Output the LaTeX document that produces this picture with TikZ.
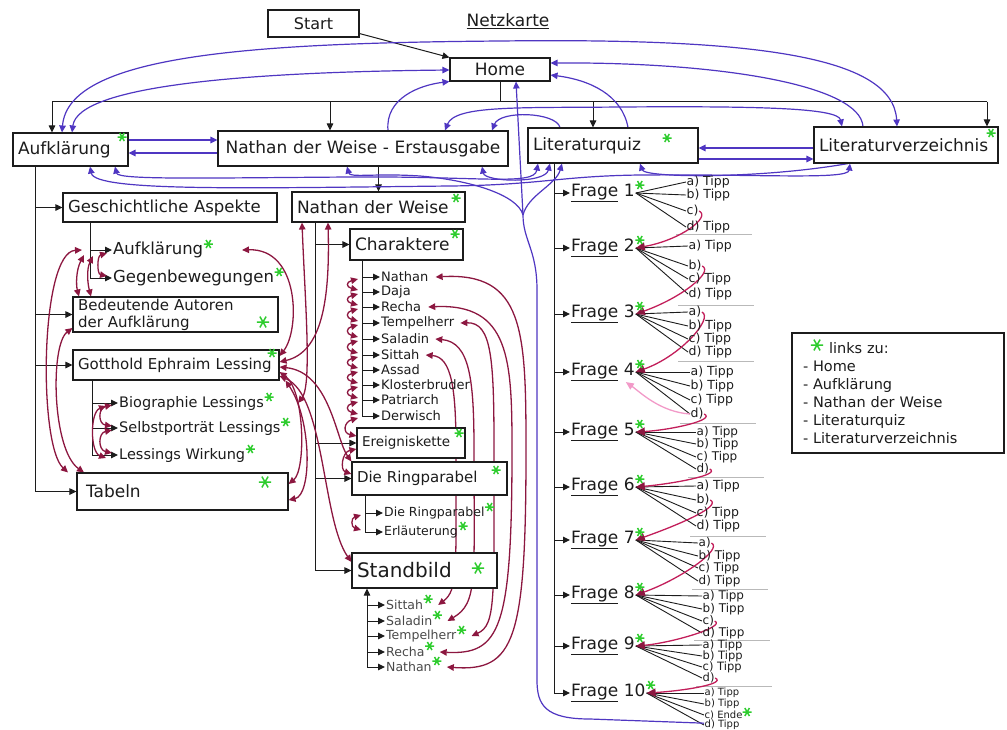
\documentclass[tikz,border=0pt]{standalone}
\usepackage{fontspec}
\setmainfont{DejaVu Sans}
\usetikzlibrary{arrows.meta,calc,backgrounds}
\newcommand\fsz[1]{\fontsize{#1}{#1}\selectfont}
\definecolor{ink}{HTML}{1C1C1C}
\definecolor{linkblue}{HTML}{4F36C2}
\definecolor{linkred}{HTML}{8C1740}
\definecolor{quizred}{HTML}{C21E5A}
\definecolor{quizpink}{HTML}{F29AC8}
\definecolor{stargreen}{HTML}{2ECC2E}
\begin{document}
\begin{tikzpicture}[x=1pt,y=-1pt,
  >={Triangle[length=7pt,width=6.5pt]},
  box/.style={draw=ink,line width=1.1pt,fill=white,inner xsep=5pt,inner ysep=0pt,align=left,text=ink},
  item/.style={anchor=west,inner sep=1pt,text=ink},
  frage/.style={anchor=west,inner sep=1pt,text=ink,font=\fsz{17}},
  tipp/.style={anchor=west,inner sep=0.5pt,text=ink},
  tree/.style={draw=ink,line width=1pt,->},
  trunk/.style={draw=ink,line width=1pt},
  bl/.style={draw=linkblue,line width=1.2pt},
  rl/.style={draw=linkred,line width=1.3pt},
  qa/.style={draw=quizred,line width=1.3pt,-{Triangle[length=9pt,width=8pt,color=linkred]}},
  fan/.style={draw=ink,line width=0.9pt},
  qsep/.style={draw=gray!55,line width=0.8pt},
  gstar/.pic={\draw[stargreen,line width=1.5pt] (-4.5,0)--(4.5,0) (-2.3,-4)--(2.3,4) (-2.3,4)--(2.3,-4);}
]
\useasboundingbox (0,0) rectangle (1007,729);

% ---------- top level ----------
\node[font=\fsz{17},text=ink] (title) at (508,21) {\underline{Netzkarte}};
\node[box,align=center,minimum width=91pt,minimum height=27pt,text width=81pt,font=\fsz{16}] (start) at (313.5,23.5) {Start};
\node[box,align=center,minimum width=100pt,minimum height=23pt,text width=90pt,font=\fsz{17}] (home) at (500,69.5) {Home};
\node[box,minimum width=115pt,minimum height=33pt,text width=105pt,font=\fsz{17}] (aufk) at (70.5,149.5) {Aufklärung};
\node[box,align=center,minimum width=290pt,minimum height=35pt,text width=280pt,font=\fsz{17}] (erst) at (363,148.5) {Nathan der Weise - Erstausgabe};
\node[box,minimum width=170pt,minimum height=35pt,text width=160pt,font=\fsz{17}] (quiz) at (613,145.5) {Literaturquiz};
\node[box,minimum width=184pt,minimum height=36pt,text width=174pt,font=\fsz{17}] (verz) at (906,145) {Literaturverzeichnis};

% ---------- Aufklärung branch ----------
\node[box,minimum width=214pt,minimum height=29pt,text width=204pt,font=\fsz{16.5}] (gesch) at (170,207.5) {Geschichtliche Aspekte};
\node[item,font=\fsz{16.5}] (gAuf) at (112,250) {Aufklärung};
\node[item,font=\fsz{16.5}] (gGeg) at (112,278) {Gegenbewegungen};
\node[box,minimum width=205pt,minimum height=35pt,text width=195pt,font=\fontsize{15}{17}\selectfont] (autoren) at (175.5,314.5) {Bedeutende Autoren\\der Aufklärung};
\node[box,minimum width=206pt,minimum height=30pt,text width=196pt,font=\fsz{15}] (lessing) at (176,365) {Gotthold Ephraim Lessing};
\node[item,font=\fsz{14.5}] (lBio) at (118,403) {Biographie Lessings};
\node[item,font=\fsz{14.5}] (lSel) at (118,428) {Selbstporträt Lessings};
\node[item,font=\fsz{14.5}] (lWir) at (118,455) {Lessings Wirkung};
\node[box,minimum width=211pt,minimum height=37pt,text width=193pt,inner xsep=9pt,font=\fsz{17}] (tabeln) at (182.5,491.5) {Tabeln};

% ---------- Nathan der Weise branch ----------
\node[box,minimum width=173pt,minimum height=30pt,text width=163pt,font=\fsz{17}] (ndw) at (378.5,207) {Nathan der Weise};
\node[box,minimum width=113pt,minimum height=31pt,text width=103pt,font=\fsz{17}] (charak) at (406.5,244.5) {Charaktere};
\foreach \n/\y/\t in {c1/277/Nathan,c2/292/Daja,c3/307/Recha,c4/323/Tempelherr,c5/339/Saladin,c6/355/Sittah,c7/370/Assad,c8/385/Klosterbruder,c9/400/Patriarch,c10/416/Derwisch}
  \node[item,font=\fsz{13}] (\n) at (380,\y) {\t};
\node[box,minimum width=108pt,minimum height=30pt,text width=98pt,font=\fsz{13.5}] (ereig) at (411,443) {Ereigniskette};
\node[box,minimum width=155pt,minimum height=33pt,text width=145pt,font=\fsz{15}] (ring) at (429.5,478.5) {Die Ringparabel};
\node[item,font=\fsz{12.5}] (r1) at (383,513) {Die Ringparabel};
\node[item,font=\fsz{12.5}] (r2) at (383,532) {Erläuterung};
\node[box,minimum width=145pt,minimum height=35pt,text width=135pt,font=\fsz{20}] (stand) at (424.5,570.5) {Standbild};
\foreach \n/\y/\t in {s1/605/Sittah,s2/621/Saladin,s3/636/Tempelherr,s4/652/Recha,s5/667/Nathan}
  \node[item,font=\fsz{12.5},text=ink!80] (\n) at (385,\y) {\t};

% ---------- quiz ----------
\foreach \q/\fy in {1/193,2/248,3/314,4/372,5/432,6/487,7/540,8/595,9/646,10/693}
  \node[frage] (f\q) at (570,\fy) {\underline{Frage} \q};
\foreach \q/\fs/\tx/\ya/\yb/\yc/\yd/\la/\lb/\lc/\ld in {
  1/12.5/686/182/195/211/227/{a) Tipp}/{b) Tipp}/{c)}/{d) Tipp},
  2/12.5/688/246/266/279/294/{a) Tipp}/{b)}/{c) Tipp}/{d) Tipp},
  3/12.5/688/312/326/339/352/{a)}/{b) Tipp}/{c) Tipp}/{d) Tipp},
  4/12.5/690/372/386/400/414/{a) Tipp}/{b) Tipp}/{c) Tipp}/{d)},
  5/12/696/432/444/457/469/{a) Tipp}/{b) Tipp}/{c) Tipp}/{d)},
  6/12.5/696/486/500/513/526/{a) Tipp}/{b)}/{c) Tipp}/{d) Tipp},
  7/12/698/543/556/568/581/{a)}/{b) Tipp}/{c) Tipp}/{d) Tipp},
  8/12/702/596/609/621/633/{a) Tipp}/{b) Tipp}/{c)}/{d) Tipp},
  9/11.5/702/645/656/667/678/{a) Tipp}/{b) Tipp}/{c) Tipp}/{d)},
  10/10/704/693/704/715/725/{a) Tipp}/{b) Tipp}/{c) Ende}/{d) Tipp}}{
  \node[tipp,font=\fsz{\fs}] (tip\q a) at (\tx,\ya) {\la};
  \node[tipp,font=\fsz{\fs}] (tip\q b) at (\tx,\yb) {\lb};
  \node[tipp,font=\fsz{\fs}] (tip\q c) at (\tx,\yc) {\lc};
  \node[tipp,font=\fsz{\fs}] (tip\q d) at (\tx,\yd) {\ld};
}

% ---------- legend ----------
\node[box,minimum width=212pt,minimum height=120pt,text width=190pt,inner xsep=11pt,font=\fontsize{14.5}{18}\selectfont] (legend) at (898,393)
  {\hspace*{26pt}links zu:\\- Home\\- Aufklärung\\- Nathan der Weise\\- Literaturquiz\\- Literaturverzeichnis};

\begin{scope}[on background layer]
% ----- hierarchy (black) -----
\draw[tree] ($(start.south east)+(0,-4)$) -- (home.north west);
\draw[trunk] (home.south) -- ++(0,20) coordinate (hb);
\draw[trunk] (hb -| 52,0) -- (hb -| 987,0);
\draw[tree] (hb -| 52,0) -- (aufk.north -| 52,0);
\draw[tree] (hb -| 330,0) -- (erst.north -| 330,0);
\draw[tree] (hb -| 593,0) -- (quiz.north -| 593,0);
\draw[tree] (hb -| 987,0) -- (verz.north -| 987,0);

\draw[trunk] (aufk.south -| 35,0) coordinate (lv) -- (lv |- tabeln.west);
\foreach \n in {gesch,autoren,lessing,tabeln} \draw[tree] (lv |- \n.west) -- (\n.west);
\draw[trunk] (gesch.south -| 90,0) coordinate (gv) -- (gv |- gGeg.west);
\foreach \n in {gAuf,gGeg} \draw[tree] (gv |- \n.west) -- (\n.west);
\draw[trunk] (lessing.south -| 92,0) coordinate (lsv) -- (lsv |- lWir.west);
\foreach \n in {lBio,lSel,lWir} \draw[tree] (lsv |- \n.west) -- (\n.west);

\draw[tree] (ndw.north |- erst.south) -- (ndw.north);
\draw[trunk] (ndw.south -| 315,0) coordinate (mv) -- (mv |- stand.west);
\foreach \n in {charak,ereig,ring,stand} \draw[tree] (mv |- \n.west) -- (\n.west);
\draw[trunk] (charak.south -| 362,0) coordinate (cv) -- (cv |- c10.west);
\foreach \n in {c1,c2,c3,c4,c5,c6,c7,c8,c9,c10} \draw[tree] (cv |- \n.west) -- (\n.west);
\draw[trunk] (ring.south -| 365,0) coordinate (rv) -- (rv |- r2.west);
\foreach \n in {r1,r2} \draw[tree] (rv |- \n.west) -- (\n.west);
\draw[trunk,<-] (stand.south -| 367,0) coordinate (sv) -- (sv |- s5.west);
\foreach \n in {s1,s2,s3,s4,s5} \draw[tree] (sv |- \n.west) -- (\n.west);

\draw[trunk] ($(quiz.south west)+(27,0)$) coordinate (qv) -- (qv |- f10.west);
\draw[tree] (qv |- f10.west) -- (f10.west);
\foreach \q in {1,...,9} \draw[tree] (qv |- f\q.west) -- (f\q.west);
\foreach \q in {1,...,10} \foreach \l in {a,b,c,d} \draw[fan] (f\q.east) -- (tip\q\l.west);
\foreach \y/\xa in {234/676,305/678,361/678,423/680,477/688,536/690,589/692,640/694,686/696}
  \draw[qsep] (\xa,\y) -- ++(76,0);

% ----- links between the main pages (blue) -----
\draw[bl,<->] (aufk.north -| 72,0) .. controls (78,85) and (250,72) .. (home.west |- 0,70);
\draw[bl,<->] (aufk.north -| 62,0) .. controls (68,55) and (250,43) .. (500,41) .. controls (750,38) and (893,55) .. (verz.north -| 897,0);
\draw[bl,->] (verz.north -| 863,0) .. controls (860,85) and (720,62) .. (home.east |- 0,63);
\draw[bl,->] (quiz.north -| 628,0) .. controls (622,95) and (590,80) .. (home.east |- 0,75);
\draw[bl,->] (erst.north -| 388,0) .. controls (385,98) and (420,85) .. (home.south west);
\draw[bl,<->] (erst.north -| 445,0) .. controls (455,105) and (520,108) .. (620,107) .. controls (760,106) and (838,108) .. (verz.north -| 842,0);
\draw[bl,->] (quiz.north -| 560,0) .. controls (556,112) and (500,110) .. (erst.north -| 492,0);
\draw[bl,->] (aufk.east |- 0,140) -- (erst.west |- 0,140);
\draw[bl,->] (erst.west |- 0,153) -- (aufk.east |- 0,153);
\draw[bl,->] (verz.west |- 0,148) -- (quiz.east |- 0,148);
\draw[bl,->] (quiz.east |- 0,159) -- (verz.west |- 0,159);
\draw[bl,<->] (aufk.south -| 115,0) .. controls (118,180) and (200,178) .. (350,177) .. controls (480,176) and (534,186) .. (quiz.south -| 538,0);
\draw[bl,<->] (aufk.south -| 90,0) .. controls (95,192) and (250,188) .. (450,186) .. controls (540,185) and (560,176) .. (640,175) .. controls (760,174) and (848,180) .. (verz.south -| 850,0);
\draw[bl,<-] (quiz.south -| 640,0) .. controls (645,178) and (760,179) .. (verz.south -| 848,0);
\draw[bl,<->] (erst.south -| 482,0) .. controls (485,182) and (545,184) .. (quiz.south -| 550,0);
\draw[bl,->] ($(tip10c.south west)+(0,3)$) -- (590,719) .. controls (545,719) and (537,705) .. (537,680) -- (537,290) .. controls (537,250) and (523,240) .. (523,215) coordinate (yfork) -- (home.south -| 516,0);
\draw[bl,->] (yfork) .. controls (518,195) and (470,180) .. (420,176) .. controls (375,173) and (350,178) .. (erst.south -| 347,0);
\draw[bl,->] (yfork) .. controls (528,195) and (556,185) .. (quiz.south -| 562,0);

% ----- links inside the chapters (red) -----
\draw[rl,<->] ($(gAuf.west)+(-30,0)$) .. controls (40,252) and (38,445) .. (tabeln.north -| 68,0);
\draw[rl,<->] (autoren.west |- 0,328) .. controls (50,345) and (52,450) .. (tabeln.north -| 84,0);
\draw[rl,<->] ($(gAuf.west)+(-28,5)$) .. controls (76,270) and (76,285) .. (autoren.north -| 79,0);
\draw[rl,<->] ($(gAuf.west)+(-19,6)$) .. controls (86,270) and (88,285) .. (autoren.north -| 91,0);
\draw[rl,<->] ($(gAuf.west)+(-5,3)$) .. controls (97,256) and (97,274) .. ($(gGeg.west)+(-5,-2)$);
\draw[rl,<->] (gAuf.east -| 242,0) .. controls (300,248) and (300,330) .. (lessing.east |- 0,356);
\draw[rl,<->] ($(lBio.west)+(-6,2)$) .. controls (98,408) and (98,424) .. ($(lSel.west)+(-6,-2)$);
\draw[rl,<->] ($(lSel.west)+(-6,2)$) .. controls (98,433) and (98,450) .. ($(lWir.west)+(-6,-2)$);
\draw[rl,<->] ($(lBio.west)+(-12,3)$) .. controls (90,412) and (90,452) .. ($(lWir.west)+(-12,3)$);
\draw[rl,<->] (lessing.east |- 0,372) .. controls (305,390) and (306,470) .. (tabeln.east |- 0,484);
\draw[rl,<->] ($(lessing.south east)+(6,0)$) .. controls (312,420) and (312,495) .. (tabeln.east |- 0,500);
\draw[rl,<->] (ndw.south -| 302,0) .. controls (305,300) and (312,385) .. (lBio.east -| 298,0);
\draw[rl,<->] (ndw.south -| 328,0) .. controls (330,300) and (322,352) .. (lessing.east |- 0,362);
\draw[rl,<->] (lessing.east |- 0,367) .. controls (330,372) and (336,440) .. (ring.north west);
\draw[rl,<->] (lessing.east |- 0,376) .. controls (325,395) and (322,520) .. (stand.west |- 0,562);
\draw[rl,<->] (ereig.west |- 0,449) .. controls (342,452) and (340,470) .. (ring.west |- 0,474);
\foreach \a/\b in {c1/c2,c2/c3,c3/c4,c4/c5,c5/c6,c6/c7,c7/c8,c8/c9,c9/c10}
  \draw[rl,<->] ($(\a.west)+(-22,2)$) .. controls +(-12,3) and +(-12,-3) .. ($(\b.west)+(-22,-2)$);
\draw[rl,<->] ($(c10.west)+(-22,2)$) .. controls +(-14,4) and +(-14,-3) .. (ereig.west |- 0,436);
\draw[rl,<->] ($(r1.west)+(-22,2)$) .. controls +(-10,3) and +(-10,-3) .. ($(r2.west)+(-22,-2)$);
\draw[rl,<->] ($(c1.east)+(6,0)$) .. controls (524,272) and (526,330) .. (526,450) .. controls (526,640) and (515,672) .. ($(s5.east)+(14,0)$);
\draw[rl,<->] ($(c3.east)+(6,0)$) .. controls (510,303) and (512,360) .. (512,450) .. controls (512,630) and (500,655) .. ($(s4.east)+(14,0)$);
\draw[rl,<->] ($(c4.east)+(5,0)$) .. controls (492,322) and (494,360) .. (494,450) .. controls (494,600) and (496,625) .. ($(s3.east)+(14,0)$);
\draw[rl,<->] ($(c5.east)+(5,0)$) .. controls (470,342) and (474,380) .. (474,450) .. controls (474,580) and (478,603) .. ($(s2.east)+(14,0)$);
\draw[rl,<->] ($(c6.east)+(5,0)$) .. controls (452,357) and (456,390) .. (456,450) .. controls (456,570) and (458,590) .. ($(s1.east)+(14,0)$);

% ----- quiz: correct answer leads to the next question -----
\draw[qa] (tip1c.east) .. controls +(12,6) and +(45,-8) .. (f2.east);
\draw[qa] (tip2b.east) .. controls +(12,6) and +(45,-16) .. (f3.east);
\draw[qa] (tip3a.east) .. controls +(12,6) and +(45,-16) .. (f4.east);
\draw[qa] (tip4d.east) .. controls +(12,6) and +(35,-2) .. (f5.east);
\draw[qa] (tip5d.east) .. controls +(12,6) and +(35,-3) .. (f6.east);
\draw[qa] (tip6b.east) .. controls +(12,6) and +(45,-16) .. (f7.east);
\draw[qa] (tip7a.east) .. controls +(12,6) and +(45,-16) .. (f8.east);
\draw[qa] (tip8c.east) .. controls +(12,6) and +(35,-3) .. (f9.east);
\draw[qa] (tip9d.east) .. controls +(12,6) and +(35,-2) .. (f10.east);
\draw[draw=quizpink,line width=1.3pt,-{Triangle[length=8pt,width=7pt]}] (tip4d.west) .. controls (660,412) and (640,392) .. ($(f4.east)+(-10,10)$);
\end{scope}

% ---------- green link marks ----------
\foreach \p in {(122,137),(667,138),(991,133),(456,198),(455,234),(272,353),(459,433),(496,470)}
  \pic at \p {gstar};
\foreach \p in {(263,322),(265,482),(478,568),(817,345)}
  \pic[scale=1.35] at \p {gstar};
\foreach \n in {gAuf,gGeg,lBio,lSel,lWir,r1,r2,s1,s2,s3,s4,s5}
  \pic at ($(\n.east)+(4,-6)$) {gstar};
\foreach \q in {1,...,10}
  \pic at ($(f\q.east)+(4,-8)$) {gstar};
\pic at ($(tip10c.east)+(4,-3)$) {gstar};
\end{tikzpicture}
\end{document}
